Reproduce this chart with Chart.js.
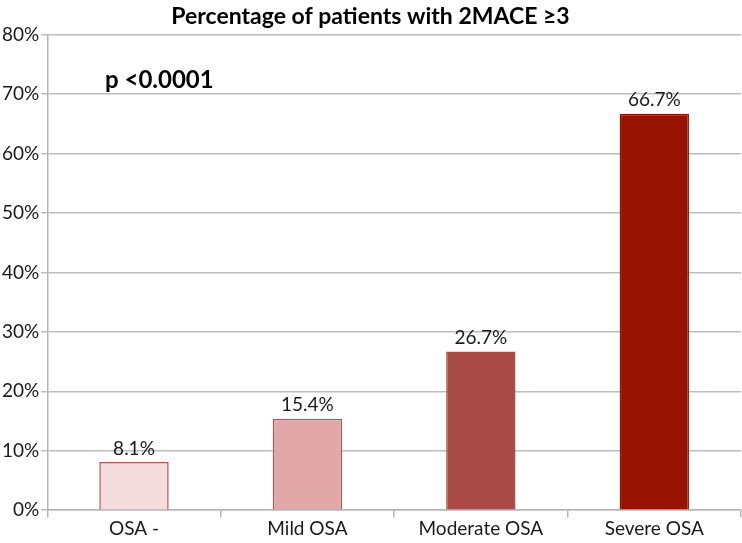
<!DOCTYPE html>
<html>
<head>
<meta charset="utf-8">
<script src="https://cdn.jsdelivr.net/npm/chart.js@4/dist/chart.umd.min.js"></script>
<style>
  html, body { margin: 0; padding: 0; background: #fff; }
  #wrap { width: 742px; height: 543px; }
</style>
</head>
<body>
<div id="wrap"><canvas id="myChart"></canvas></div>
<script>
const categories = ["OSA -", "Mild OSA", "Moderate OSA", "Severe OSA"];
const percentages = [8.1, 15.4, 26.7, 66.7];
const fillColors = ["#f5dddd", "#e2a8a7", "#a84b47", "#961300"];
const borderColors = ["#b5524f", "#b5524f", "#a84b47", "#961300"];
const titleText = "Percentage of patients with 2MACE \u22653";
const pText = "p <0.0001";

const fontFam = "Lato, 'Open Sans', sans-serif";

// value labels above bars + the p value text
const labelsPlugin = {
  id: "barLabels",
  afterDatasetsDraw(chart) {
    const ctx = chart.ctx;
    const meta = chart.getDatasetMeta(0);
    ctx.save();
    ctx.fillStyle = "#1a1a1a";
    ctx.font = "19px " + fontFam;
    ctx.textAlign = "center";
    ctx.textBaseline = "bottom";
    meta.data.forEach((bar, i) => {
      ctx.fillText(percentages[i].toFixed(1) + "%", bar.x, bar.y - 4);
    });
    // p value
    const y = chart.scales.y;
    ctx.font = "bold 24px " + fontFam;
    ctx.textAlign = "left";
    ctx.textBaseline = "middle";
    ctx.fillStyle = "#000";
    ctx.fillText(pText, 105, y.getPixelForValue(72.3));
    ctx.restore();
  }
};

const ctx = document.getElementById("myChart");
new Chart(ctx, {
  type: "bar",
  data: {
    labels: categories,
    datasets: [{
      data: percentages,
      backgroundColor: fillColors,
      borderColor: borderColors,
      borderWidth: 1.5,
      barPercentage: 0.8,
      categoryPercentage: 0.5
    }]
  },
  options: {
    responsive: true,
    maintainAspectRatio: false,
    animation: false,
    layout: { padding: { left: 0, right: 1, top: 0, bottom: 3 } },
    plugins: {
      legend: { display: false },
      tooltip: { enabled: false },
      title: {
        display: true,
        text: titleText,
        color: "#000",
        font: { family: fontFam, size: 23, weight: "bold" },
        padding: { top: 3, bottom: 4 }
      }
    },
    scales: {
      x: {
        grid: {
          offset: true,
          drawOnChartArea: false,
          drawTicks: true,
          tickLength: 7,
          color: "#b5b5b5",
          lineWidth: 1.5
        },
        border: { color: "#b5b5b5", width: 1.5 },
        ticks: {
          color: "#1a1a1a",
          font: { family: fontFam, size: 19 },
          padding: 0
        }
      },
      y: {
        min: 0,
        max: 80,
        grid: {
          color: "#bdbdbd",
          lineWidth: 1.5,
          tickLength: 6
        },
        border: { color: "#b5b5b5", width: 1.5 },
        ticks: {
          stepSize: 10,
          color: "#1a1a1a",
          font: { family: fontFam, size: 19 },
          padding: 2,
          callback: v => v + "%"
        }
      }
    }
  },
  plugins: [labelsPlugin]
});
</script>
</body>
</html>
